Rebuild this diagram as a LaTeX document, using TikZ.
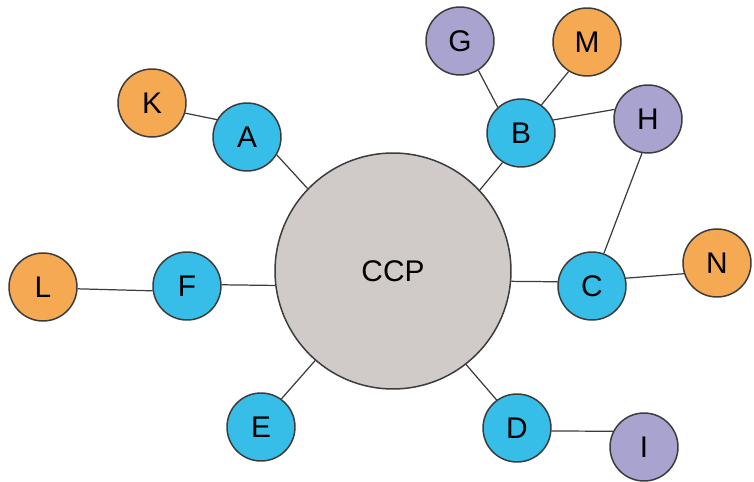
\documentclass[tikz,border=0pt]{standalone}
\usepackage{fontspec}
\setmainfont{Liberation Sans}
\usepackage{xcolor}
\usepackage{tikz}
\usetikzlibrary{positioning}
\definecolor{hubgray}  {RGB}{208,202,200}
\definecolor{nodeblue} {RGB}{54,189,232}
\definecolor{leaforange}{RGB}{245,169,83}
\definecolor{leafpurple}{RGB}{169,164,207}
\definecolor{linegray} {RGB}{60,60,60}
\tikzset{
  dot/.style    ={circle, draw=linegray, line width=0.85pt, inner sep=0pt,
                  minimum size=1.36cm, font=\fontsize{17}{20}\selectfont},
  hub/.style    ={dot, fill=hubgray, minimum size=4.72cm},
  bluedot/.style={dot, fill=nodeblue},
  orgdot/.style ={dot, fill=leaforange},
  purdot/.style ={dot, fill=leafpurple},
  link/.style   ={draw=linegray, line width=0.7pt},
}

\begin{document}
\begin{tikzpicture}[x=0.02cm, y=-0.02cm]
\useasboundingbox (0,0) rectangle (754,482);

%% ─── Centre ──────────────────────────────────────────────────────────────────
\node[hub] (CCP) at (393,271) {CCP};

%% ─── First ring ──────────────────────────────────────────────────────────────
\foreach \n/\x/\y in {A/247/137, B/521/133, C/592/286, D/517/428, E/261/427, F/187/286}{
  \node[bluedot] (\n) at (\x,\y) {\n};
}

%% ─── Outer nodes ─────────────────────────────────────────────────────────────
\foreach \n/\x/\y in {K/152/103, L/43/287, M/587/42, N/717/263}{
  \node[orgdot] (\n) at (\x,\y) {\n};
}
\foreach \n/\x/\y in {G/460/41, H/648/119, I/644/447}{
  \node[purdot] (\n) at (\x,\y) {\n};
}

%% ─── Links ───────────────────────────────────────────────────────────────────
\foreach \a/\p/\b/\q in {CCP/136/A/-31, CCP/43/B/238, CCP/-5/C/173, CCP/-52/D/126,
                         CCP/229/E/54, CCP/187/F/2,
                         K/-17/A/150, L/-3/F/188, G/-58/B/132, B/54/M/238,
                         B/22/H/164, C/70/H/260, C/13/N/198, D/-5/I/153}{
  \draw[link] (\a.\p) -- (\b.\q);
}

\end{tikzpicture}
\end{document}
